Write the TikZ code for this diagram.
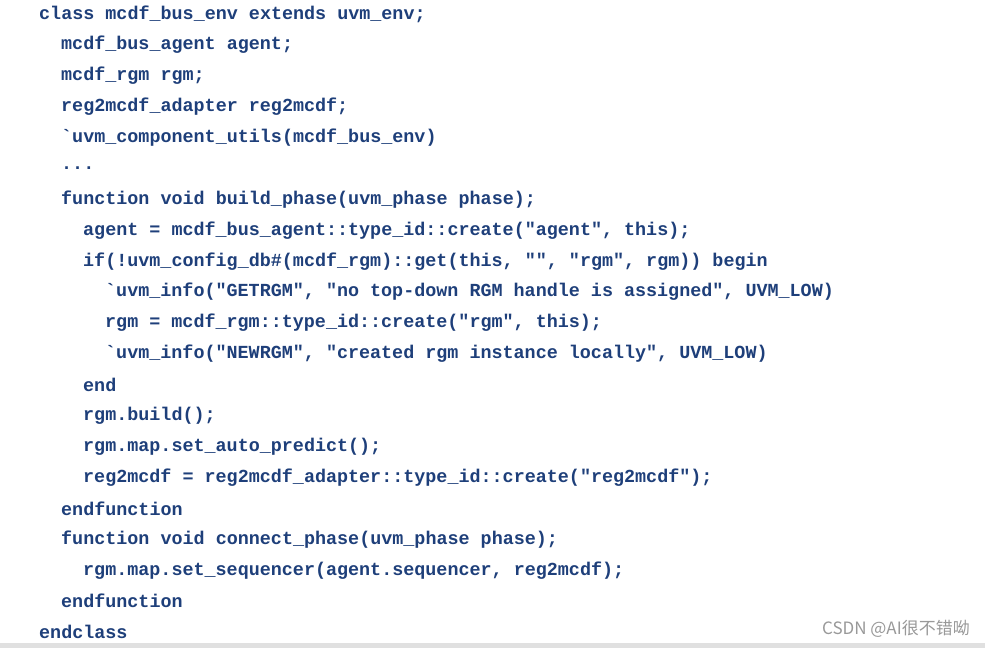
\documentclass[tikz,border=0pt]{standalone}
\usepackage{fontspec}
\newfontfamily\codefont{Liberation Mono}[BoldFont={Liberation Mono Bold}]
\newfontfamily\cjk{Noto Sans CJK SC}
\definecolor{codeblue}{HTML}{1E3F7A}
\begin{document}
\begin{tikzpicture}[x=1pt,y=1pt,
  code/.style={anchor=west,inner sep=0pt,text=codeblue,font=\codefont\bfseries\fontsize{18.4}{20}\selectfont}]
\useasboundingbox (0,0) rectangle (985,-648);
\fill[white] (0,0) rectangle (985,-648);
\fill[black!12] (0,-643) rectangle (985,-648);
\def\ca{39}\def\cb{61}\def\cc{83}\def\cd{105}
\node[code] (l1) at (\ca,-14) {class mcdf\_bus\_env extends uvm\_env;};
\node[code] (l2) at (\cb,-44.9) {mcdf\_bus\_agent agent;};
\node[code] (l3) at (\cb,-75.8) {mcdf\_rgm rgm;};
\node[code] (l4) at (\cb,-106.7) {reg2mcdf\_adapter reg2mcdf;};
\node[code] (l5) at (\cb,-137.6) {\textasciigrave uvm\_component\_utils(mcdf\_bus\_env)};
\node[code] (l6) at (\cb,-168.5) {...};
\node[code] (l7) at (\cb,-199.4) {function void build\_phase(uvm\_phase phase);};
\node[code] (l8) at (\cc,-230.3) {agent = mcdf\_bus\_agent::type\_id::create("agent", this);};
\node[code] (l9) at (\cc,-261.2) {if(!uvm\_config\_db\#(mcdf\_rgm)::get(this, "", "rgm", rgm)) begin};
\node[code] (l10) at (\cd,-292.1) {\textasciigrave uvm\_info("GETRGM", "no top-down RGM handle is assigned", UVM\_LOW)};
\node[code] (l11) at (\cd,-323) {rgm = mcdf\_rgm::type\_id::create("rgm", this);};
\node[code] (l12) at (\cd,-353.9) {\textasciigrave uvm\_info("NEWRGM", "created rgm instance locally", UVM\_LOW)};
\node[code] (l13) at (\cc,-384.8) {end};
\node[code] (l14) at (\cc,-415.7) {rgm.build();};
\node[code] (l15) at (\cc,-446.6) {rgm.map.set\_auto\_predict();};
\node[code] (l16) at (\cc,-477.5) {reg2mcdf = reg2mcdf\_adapter::type\_id::create("reg2mcdf");};
\node[code] (l17) at (\cb,-508.4) {endfunction};
\node[code] (l18) at (\cb,-539.3) {function void connect\_phase(uvm\_phase phase);};
\node[code] (l19) at (\cc,-570.2) {rgm.map.set\_sequencer(agent.sequencer, reg2mcdf);};
\node[code] (l20) at (\cb,-601.1) {endfunction};
\node[code] (l21) at (\ca,-632) {endclass};
\node[anchor=east,inner sep=0pt,text=black!40,font=\cjk\fontsize{17}{19}\selectfont] (wm) at (970,-629) {CSDN @AI很不错呦};
\end{tikzpicture}
\end{document}
